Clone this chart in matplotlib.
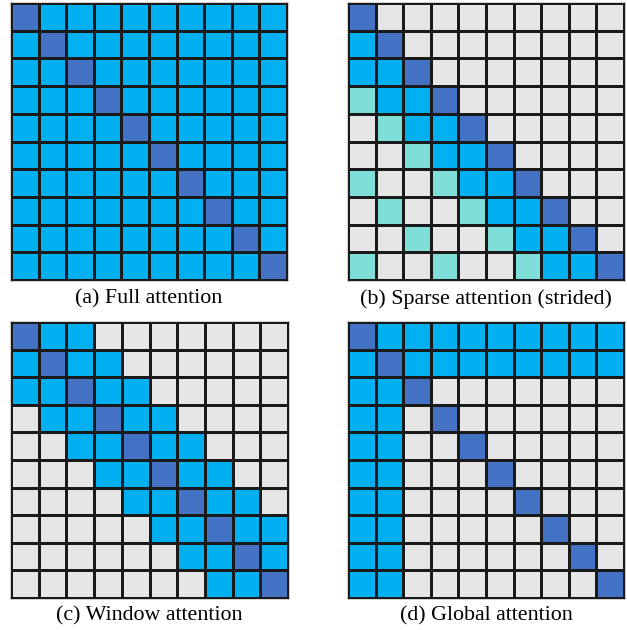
import matplotlib
matplotlib.use("Agg")
import matplotlib.pyplot as plt
import numpy as np
from matplotlib.colors import ListedColormap

# Cell codes: D = diagonal (self), B = attended, T = strided attended, G = not attended
full_rows = [
    "DBBBBBBBBB",
    "BDBBBBBBBB",
    "BBDBBBBBBB",
    "BBBDBBBBBB",
    "BBBBDBBBBB",
    "BBBBBDBBBB",
    "BBBBBBDBBB",
    "BBBBBBBDBB",
    "BBBBBBBBDB",
    "BBBBBBBBBD",
]
sparse_rows = [
    "DGGGGGGGGG",
    "BDGGGGGGGG",
    "BBDGGGGGGG",
    "TBBDGGGGGG",
    "GTBBDGGGGG",
    "GGTBBDGGGG",
    "TGGTBBDGGG",
    "GTGGTBBDGG",
    "GGTGGTBBDG",
    "TGGTGGTBBD",
]
window_rows = [
    "DBBGGGGGGG",
    "BDBBGGGGGG",
    "BBDBBGGGGG",
    "GBBDBBGGGG",
    "GGBBDBBGGG",
    "GGGBBDBBGG",
    "GGGGBBDBBG",
    "GGGGGBBDBB",
    "GGGGGGBBDB",
    "GGGGGGGBBD",
]
global_rows = [
    "DBBBBBBBBB",
    "BDBBBBBBBB",
    "BBDGGGGGGG",
    "BBGDGGGGGG",
    "BBGGDGGGGG",
    "BBGGGDGGGG",
    "BBGGGGDGGG",
    "BBGGGGGDGG",
    "BBGGGGGGDG",
    "BBGGGGGGGD",
]
captions = [
    "(a) Full attention",
    "(b) Sparse attention (strided)",
    "(c) Window attention",
    "(d) Global attention",
]
codes = ["G", "B", "T", "D"]
colors = ["#E6E6E6", "#00B0F0", "#7FDED8", "#4472C4"]

cmap = ListedColormap(colors)
code_idx = {c: i for i, c in enumerate(codes)}

fig = plt.figure(figsize=(6.27, 6.30), dpi=100)
W, H = 627, 630

# panel boxes in pixels: left, top, right, bottom
boxes = [
    (11, 3, 287, 280),
    (348, 3, 624, 280),
    (11, 322, 288, 598),
    (348, 322, 624, 598),
]
cap_y = [299, 299, 616, 616]
mats = [full_rows, sparse_rows, window_rows, global_rows]

for rows, (l, t, r, b), cap, cy in zip(mats, boxes, captions, cap_y):
    ax = fig.add_axes([l / W, 1 - b / H, (r - l) / W, (b - t) / H])
    m = np.array([[code_idx[c] for c in row] for row in rows])
    ax.pcolormesh(m, cmap=cmap, vmin=-0.5, vmax=len(codes) - 0.5,
                  edgecolors="#1a1a1a", linewidth=1.0)
    ax.set_xlim(0, 10)
    ax.set_ylim(10, 0)
    ax.set_xticks([])
    ax.set_yticks([])
    for s in ax.spines.values():
        s.set_linewidth(1.0)
        s.set_edgecolor("#1a1a1a")
    fig.text((l + r) / 2 / W, 1 - cy / H, cap, ha="center", va="center",
             fontsize=15.8, family="Liberation Serif")

fig.savefig("out.png", dpi=100)
